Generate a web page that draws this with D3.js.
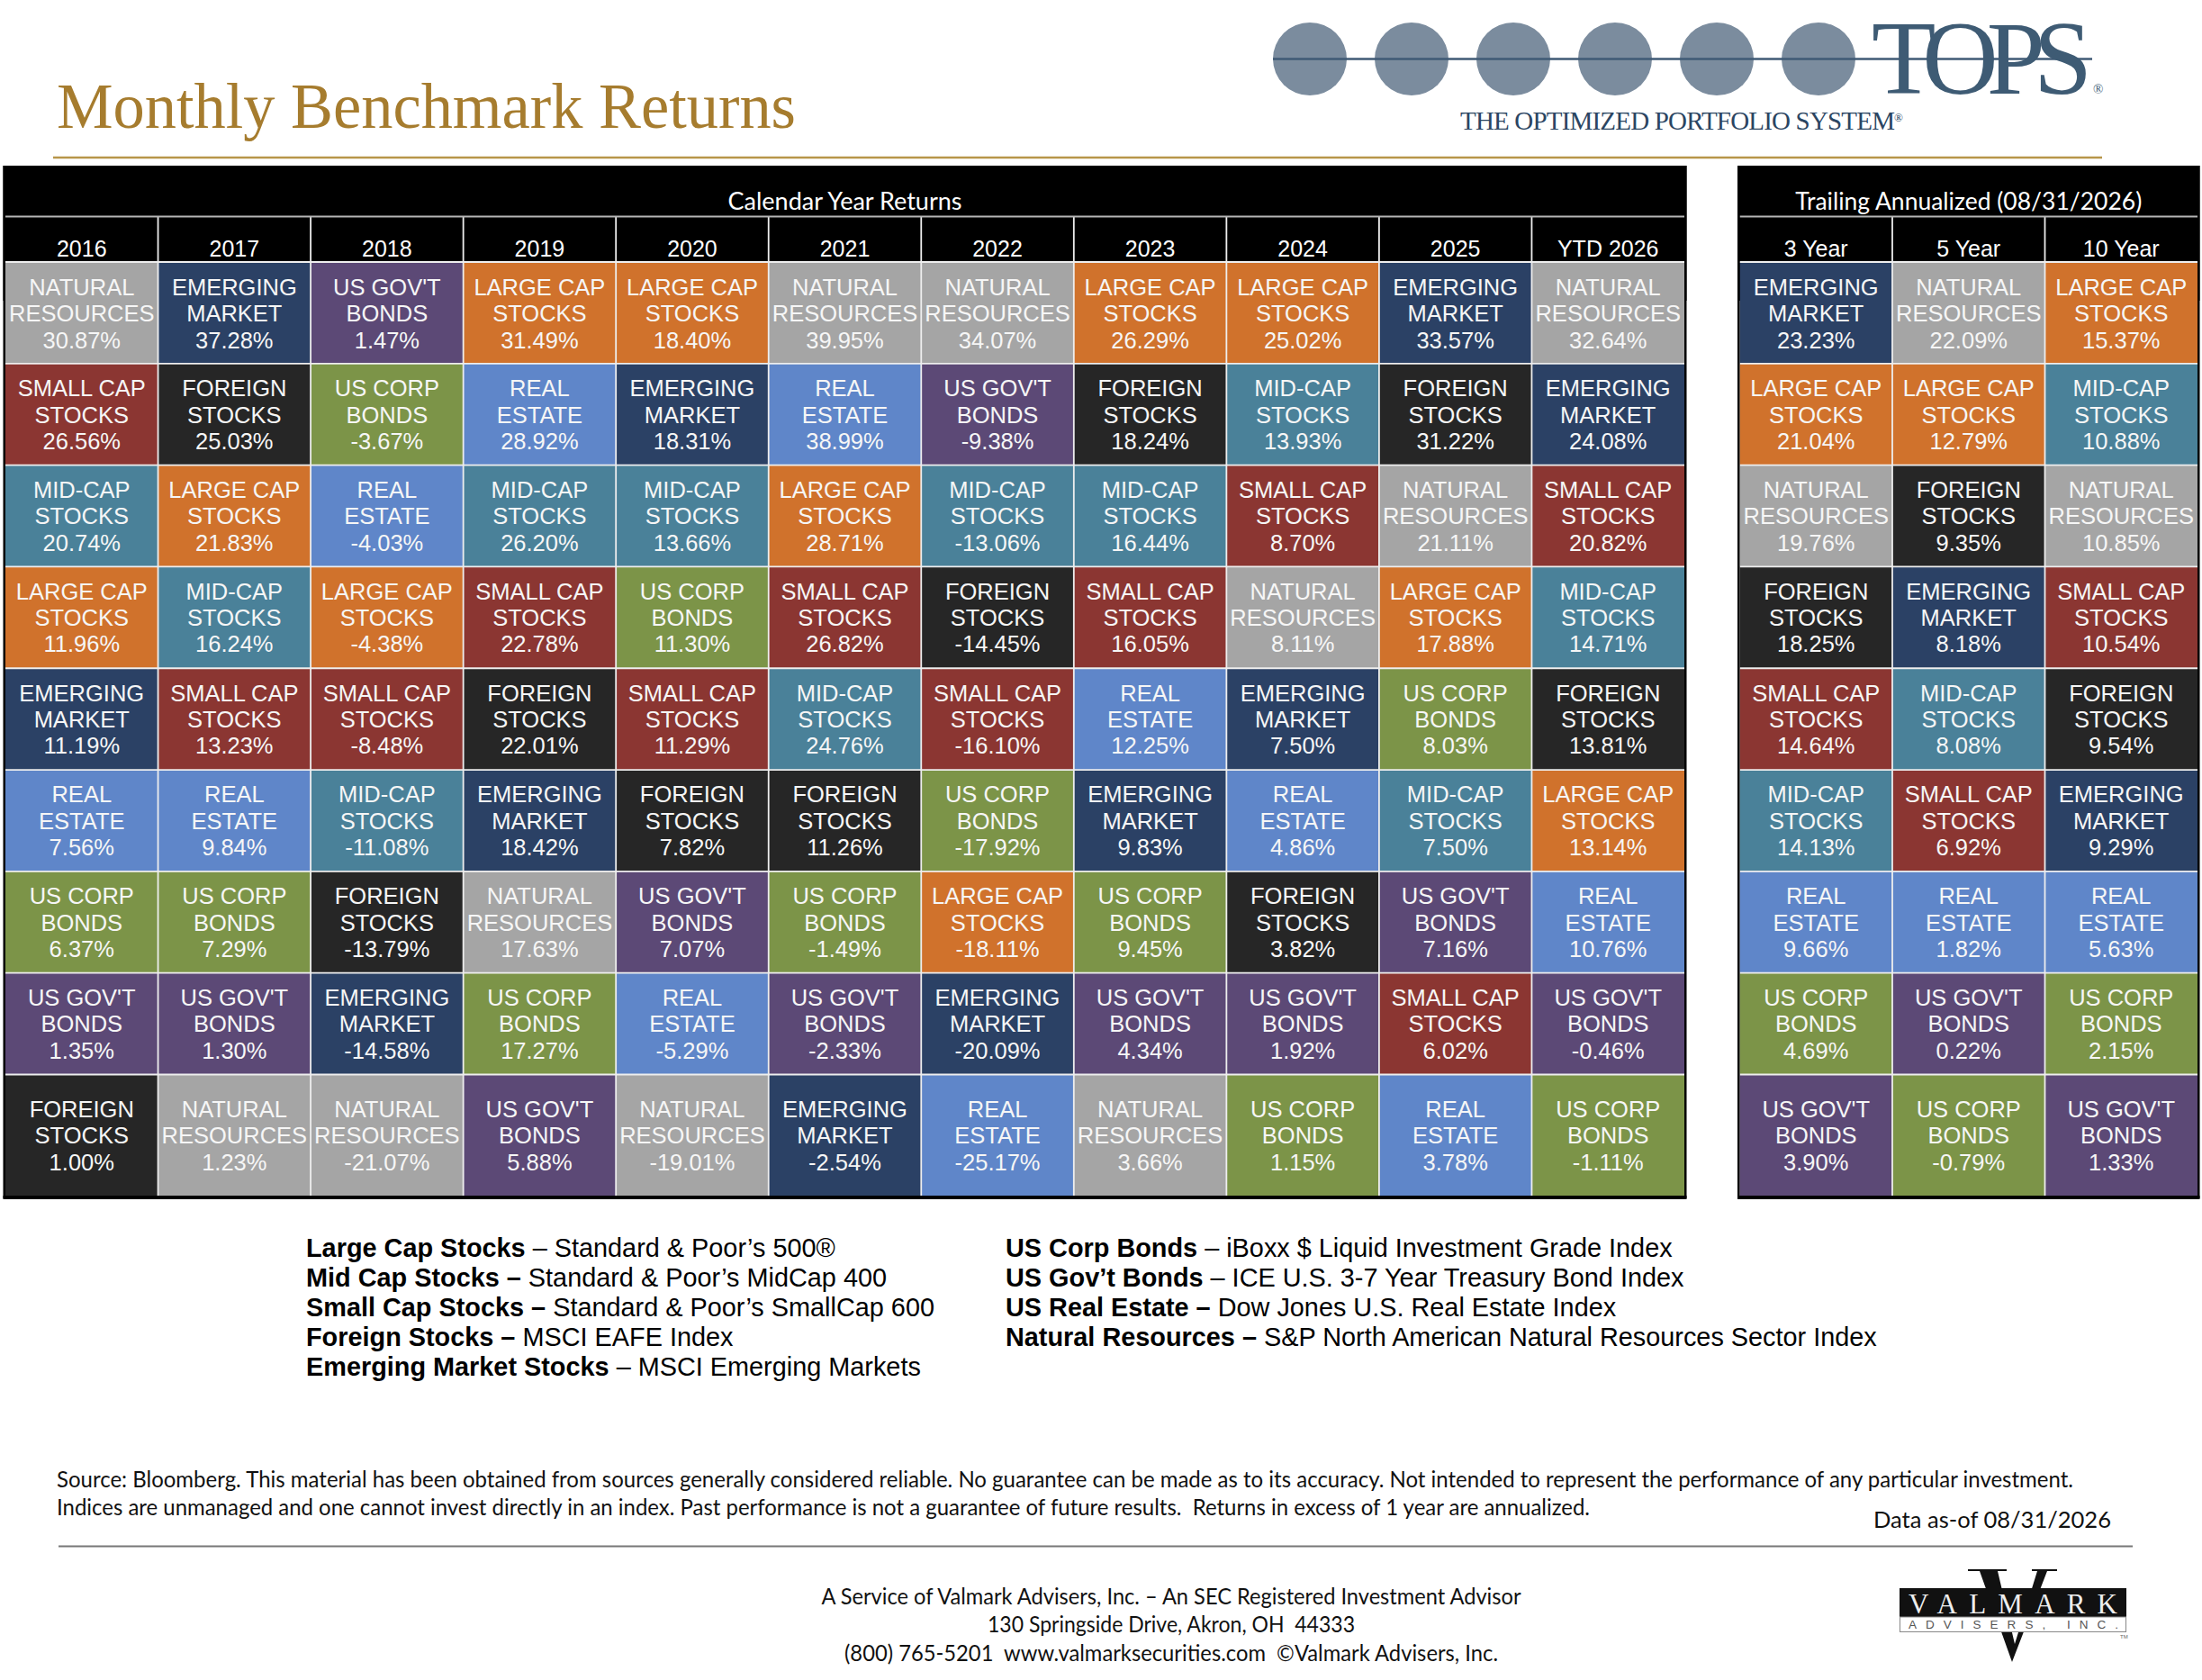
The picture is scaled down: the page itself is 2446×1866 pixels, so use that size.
<!DOCTYPE html>
<html>
<head>
<meta charset="utf-8">
<title>Monthly Benchmark Returns</title>
<script src="https://cdn.jsdelivr.net/npm/d3@7"></script>
<style>
  body { margin: 0; background: #fff; }
  svg { display: block; }
  .sans { font-family: "Liberation Sans", Arial, sans-serif; }
  .cal { font-family: Lato, "Open Sans", sans-serif; }
  .serif { font-family: "Liberation Serif", "Times New Roman", serif; }
</style>
</head>
<body>
<svg id="chart" width="2446" height="1866"></svg>
<script>
// Asset classes and the way they are written in a cell
const LC = "LARGE CAP|STOCKS", MC = "MID-CAP|STOCKS", SC = "SMALL CAP|STOCKS",
      FS = "FOREIGN|STOCKS", EM = "EMERGING|MARKET", CB = "US CORP|BONDS",
      GB = "US GOV'T|BONDS", RE = "REAL|ESTATE", NR = "NATURAL|RESOURCES";

const calendarPeriods = ["2016", "2017", "2018", "2019", "2020", "2021", "2022", "2023", "2024", "2025", "YTD 2026"];
const trailingPeriods = ["3 Year", "5 Year", "10 Year"];

// Ranked classes per period, best first
const classes2016 = [NR, SC, MC, LC, EM, RE, CB, GB, FS];
const classes2017 = [EM, FS, LC, MC, SC, RE, CB, GB, NR];
const classes2018 = [GB, CB, RE, LC, SC, MC, FS, EM, NR];
const classes2019 = [LC, RE, MC, SC, FS, EM, NR, CB, GB];
const classes2020 = [LC, EM, MC, CB, SC, FS, GB, RE, NR];
const classes2021 = [NR, RE, LC, SC, MC, FS, CB, GB, EM];
const classes2022 = [NR, GB, MC, FS, SC, CB, LC, EM, RE];
const classes2023 = [LC, FS, MC, SC, RE, EM, CB, GB, NR];
const classes2024 = [LC, MC, SC, NR, EM, RE, FS, GB, CB];
const classes2025 = [EM, FS, NR, LC, CB, MC, GB, SC, RE];
const classesYtd = [NR, EM, SC, MC, FS, LC, RE, GB, CB];
const classes3y = [EM, LC, NR, FS, SC, MC, RE, CB, GB];
const classes5y = [NR, LC, FS, EM, MC, SC, RE, GB, CB];
const classes10y = [LC, MC, NR, SC, FS, EM, RE, CB, GB];

// Returns in percent, same order
const returns2016 = [30.87, 26.56, 20.74, 11.96, 11.19, 7.56, 6.37, 1.35, 1.00];
const returns2017 = [37.28, 25.03, 21.83, 16.24, 13.23, 9.84, 7.29, 1.30, 1.23];
const returns2018 = [1.47, -3.67, -4.03, -4.38, -8.48, -11.08, -13.79, -14.58, -21.07];
const returns2019 = [31.49, 28.92, 26.20, 22.78, 22.01, 18.42, 17.63, 17.27, 5.88];
const returns2020 = [18.40, 18.31, 13.66, 11.30, 11.29, 7.82, 7.07, -5.29, -19.01];
const returns2021 = [39.95, 38.99, 28.71, 26.82, 24.76, 11.26, -1.49, -2.33, -2.54];
const returns2022 = [34.07, -9.38, -13.06, -14.45, -16.10, -17.92, -18.11, -20.09, -25.17];
const returns2023 = [26.29, 18.24, 16.44, 16.05, 12.25, 9.83, 9.45, 4.34, 3.66];
const returns2024 = [25.02, 13.93, 8.70, 8.11, 7.50, 4.86, 3.82, 1.92, 1.15];
const returns2025 = [33.57, 31.22, 21.11, 17.88, 8.03, 7.50, 7.16, 6.02, 3.78];
const returnsYtd = [32.64, 24.08, 20.82, 14.71, 13.81, 13.14, 10.76, -0.46, -1.11];
const returns3y = [23.23, 21.04, 19.76, 18.25, 14.64, 14.13, 9.66, 4.69, 3.90];
const returns5y = [22.09, 12.79, 9.35, 8.18, 8.08, 6.92, 1.82, 0.22, -0.79];
const returns10y = [15.37, 10.88, 10.85, 10.54, 9.54, 9.29, 5.63, 2.15, 1.33];

const calendarClasses = [classes2016, classes2017, classes2018, classes2019, classes2020, classes2021, classes2022, classes2023, classes2024, classes2025, classesYtd];
const calendarReturns = [returns2016, returns2017, returns2018, returns2019, returns2020, returns2021, returns2022, returns2023, returns2024, returns2025, returnsYtd];
const trailingClasses = [classes3y, classes5y, classes10y];
const trailingReturns = [returns3y, returns5y, returns10y];

const legendLeft = [
  ["Large Cap Stocks", " \u2013 Standard & Poor\u2019s 500\u00AE"],
  ["Mid Cap Stocks \u2013", " Standard & Poor\u2019s MidCap 400"],
  ["Small Cap Stocks \u2013", " Standard & Poor\u2019s SmallCap 600"],
  ["Foreign Stocks \u2013", " MSCI EAFE Index"],
  ["Emerging Market Stocks", " \u2013 MSCI Emerging Markets"]
];
const legendRight = [
  ["US Corp Bonds", " \u2013 iBoxx $ Liquid Investment Grade Index"],
  ["US Gov\u2019t Bonds", " \u2013 ICE U.S. 3-7 Year Treasury Bond Index"],
  ["US Real Estate \u2013", " Dow Jones U.S. Real Estate Index"],
  ["Natural Resources \u2013", " S&P North American Natural Resources Sector Index"]
];

const classColor = new Map([
  [LC, "#d0722c"], [MC, "#4a8199"], [SC, "#8b3632"], [FS, "#262626"], [EM, "#2b4165"],
  [CB, "#7c9448"], [GB, "#5c4976"], [RE, "#5f86c9"], [NR, "#a5a5a5"]
]);

const svg = d3.select("#chart");
const ROW_TOP = 291, ROW_8 = 1193.5, ROW_BOTTOM = 1328;

// Rows share a height except the last, which is taller
const yRow = d3.scaleLinear().domain([0, 8, 9]).range([ROW_TOP, ROW_8, ROW_BOTTOM]);

function drawTable(title, titleLen, periods, classes, returns, x0, x1) {
  const g = svg.append("g");
  const x = d3.scaleBand().domain(periods).range([x0, x1]);
  const w = x.bandwidth();

  g.append("rect").attr("x", x0 - 2.5).attr("y", 184).attr("width", x1 - x0 + 5).attr("height", 150).attr("fill", "#000");

  const cells = periods.flatMap((p, i) => classes[i].map((c, r) => ({ p, r, c, v: returns[i][r] })));
  const cell = g.selectAll("g.cell").data(cells).join("g").attr("class", "cell")
    .attr("transform", d => `translate(${x(d.p)},${yRow(d.r)})`);

  cell.append("rect")
    .attr("width", w)
    .attr("height", d => yRow(d.r + 1) - yRow(d.r))
    .attr("fill", d => classColor.get(d.c));

  // last row keeps its text a little lower in the cell
  const textTop = d => (d.r === 8 ? 47.5 : d.r === 0 ? 37 : 36.4);
  cell.each(function(d) {
    const c = d3.select(this);
    const [a, b] = d.c.split("|");
    [a, b, d.v.toFixed(2) + "%"].forEach((s, k) => {
      c.append("text").attr("class", "sans")
        .attr("x", w / 2).attr("y", textTop(d) + k * 29.3)
        .attr("text-anchor", "middle").attr("font-size", 25.5).attr("fill", "#f6f6f6")
        .text(s);
    });
  });

  // White rules between the cells and the header columns
  const grid = g.append("g").attr("stroke", "#eeeeee").attr("stroke-width", 1.8);
  periods.slice(1).forEach(p => {
    grid.append("line").attr("x1", x(p)).attr("x2", x(p)).attr("y1", 241).attr("y2", ROW_BOTTOM);
  });
  d3.range(1, 9).forEach(r => {
    grid.append("line").attr("x1", x0).attr("x2", x1).attr("y1", yRow(r)).attr("y2", yRow(r));
  });
  grid.append("line").attr("x1", x0).attr("x2", x1).attr("y1", 240.5).attr("y2", 240.5).attr("stroke", "#b5b5b5");
  grid.append("line").attr("x1", x0).attr("x2", x1).attr("y1", ROW_TOP).attr("y2", ROW_TOP);

  // Frame
  g.append("rect").attr("x", x0 - 1.25).attr("y", 185.25).attr("width", x1 - x0 + 2.5).attr("height", 1144.5)
    .attr("fill", "none").attr("stroke", "#000").attr("stroke-width", 2.5);
  g.append("rect").attr("x", x0 - 2.5).attr("y", ROW_BOTTOM).attr("width", x1 - x0 + 5).attr("height", 4).attr("fill", "#000");

  g.selectAll("text.head").data(periods).join("text").attr("class", "head sans")
    .attr("x", d => x(d) + w / 2).attr("y", 284.5)
    .attr("text-anchor", "middle").attr("font-size", 25).attr("fill", "#fff")
    .text(d => d);

  g.append("text").attr("class", "cal")
    .attr("x", (x0 + x1) / 2).attr("y", 232.5)
    .attr("text-anchor", "middle").attr("font-size", 27).attr("fill", "#fff")
    .attr("textLength", titleLen).attr("lengthAdjust", "spacingAndGlyphs")
    .text(title);
}

drawTable("Calendar Year Returns", 260, calendarPeriods, calendarClasses, calendarReturns, 6, 1871);
drawTable("Trailing Annualized (08/31/2026)", 385, trailingPeriods, trailingClasses, trailingReturns, 1932.5, 2441);

// Title
svg.append("text").attr("class", "serif")
  .attr("x", 63).attr("y", 142).attr("font-size", 71.5).attr("fill", "#a67c2e")
  .attr("textLength", 821).attr("lengthAdjust", "spacingAndGlyphs")
  .text("Monthly Benchmark Returns");
svg.append("line").attr("x1", 59).attr("x2", 2335).attr("y1", 175).attr("y2", 175)
  .attr("stroke", "#b8964a").attr("stroke-width", 2.4);

// TOPS logo
const topsDots = d3.scalePoint().domain(d3.range(6)).range([1455, 2020]);
svg.selectAll("ellipse.tops").data(d3.range(6)).join("ellipse").attr("class", "tops")
  .attr("cx", d => topsDots(d)).attr("cy", 65.5).attr("rx", 41).attr("ry", 40.5).attr("fill", "#7b8c9e");
svg.append("line").attr("x1", 1414).attr("x2", 2324).attr("y1", 65.5).attr("y2", 65.5)
  .attr("stroke", "#3f5a75").attr("stroke-width", 2.5);
svg.append("text").attr("class", "serif")
  .attr("x", 2079).attr("y", 104).attr("font-size", 117).attr("fill", "#3e5b74")
  .attr("letter-spacing", -13).text("TOPS");
svg.append("text").attr("class", "serif").attr("x", 2325).attr("y", 104).attr("font-size", 15).attr("fill", "#3e5b74").text("\u00AE");
const tagline = svg.append("text").attr("class", "serif")
  .attr("x", 1622).attr("y", 144).attr("font-size", 29).attr("fill", "#2b4562")
  .attr("textLength", 492);
tagline.append("tspan").text("THE OPTIMIZED PORTFOLIO SYSTEM");
tagline.append("tspan").attr("font-size", 13).attr("dy", -9).text("\u00AE");

// Legend
function drawLegend(rows, x) {
  const t = svg.selectAll(null).data(rows).join("text").attr("class", "sans")
    .attr("x", x).attr("y", (d, i) => 1396 + i * 33)
    .attr("font-size", 28.85).attr("fill", "#000");
  t.append("tspan").attr("font-weight", "bold").text(d => d[0]);
  t.append("tspan").text(d => d[1]);
}
drawLegend(legendLeft, 340);
drawLegend(legendRight, 1117);

// Footnotes
function note(s, x, y, len, anchor) {
  svg.append("text").attr("class", "cal")
    .attr("x", x).attr("y", y).attr("text-anchor", anchor || "start")
    .attr("font-size", 25.5).attr("fill", "#111")
    .attr("textLength", len).attr("lengthAdjust", "spacingAndGlyphs")
    .text(s);
}
note("Source: Bloomberg. This material has been obtained from sources generally considered reliable. No guarantee can be made as to its accuracy. Not intended to represent the performance of any particular investment.", 63, 1652, 2240);
note("Indices are unmanaged and one cannot invest directly in an index. Past performance is not a guarantee of future results.\u00A0 Returns in excess of 1 year are annualized.", 63, 1683, 1703);
note("Data as-of 08/31/2026", 2081, 1697, 264);
svg.append("line").attr("x1", 65).attr("x2", 2369).attr("y1", 1717.5).attr("y2", 1717.5)
  .attr("stroke", "#777").attr("stroke-width", 1.8);
note("A Service of Valmark Advisers, Inc. \u2013 An SEC Registered Investment Advisor", 1301, 1782, 777, "middle");
note("130 Springside Drive, Akron, OH\u00A0 44333", 1301, 1813, 408, "middle");
note("(800) 765-5201\u00A0 www.valmarksecurities.com\u00A0 \u00A9Valmark Advisers, Inc.", 1301, 1845, 726, "middle");

// Valmark logo
const lineV = d3.line();
svg.append("path").attr("fill", "#111")
  .attr("d", lineV([[2186, 1743], [2229, 1743], [2229, 1745], [2219, 1745], [2238, 1826], [2263, 1745], [2257, 1745], [2257, 1743], [2285, 1743], [2285, 1745], [2274, 1745], [2235, 1846], [2199, 1745], [2186, 1745]]) + "Z");
svg.append("rect").attr("x", 2110).attr("y", 1764).attr("width", 252).attr("height", 32).attr("fill", "#111");
svg.append("rect").attr("x", 2110.5).attr("y", 1796).attr("width", 251).attr("height", 16.5).attr("fill", "#fff").attr("stroke", "#888");
svg.append("text").attr("class", "serif")
  .attr("x", 2120).attr("y", 1791.5).attr("font-size", 31).attr("fill", "#eee")
  .attr("textLength", 232).text("VALMARK");
svg.append("text").attr("class", "sans")
  .attr("x", 2120).attr("y", 1809).attr("font-size", 13.5).attr("fill", "#555")
  .attr("textLength", 233).text("ADVISERS, INC.");
svg.append("text").attr("class", "sans")
  .attr("x", 2355).attr("y", 1820).attr("font-size", 6).attr("fill", "#666").text("TM");
</script>
</body>
</html>
